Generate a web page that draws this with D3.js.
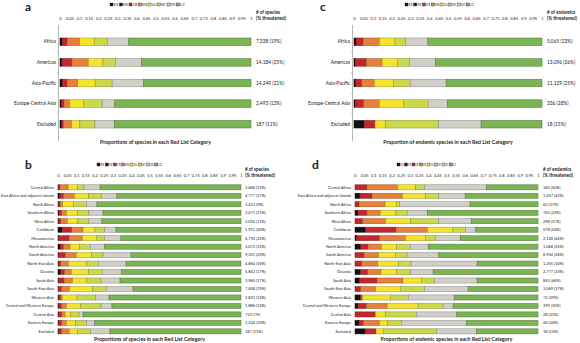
<!DOCTYPE html>
<html>
<head>
<meta charset="utf-8">
<script src="https://cdn.jsdelivr.net/npm/d3@7"></script>
<style>
  body { margin: 0; background: #fff; }
  text { font-family: Lato, "Open Sans", sans-serif; fill: #222; }
</style>
</head>
<body>
<div id="container"></div>
<script>
// Red List categories, in stacking order
const categories = ["EX", "EW", "CR", "EN", "VU", "NT", "DD", "LC"];
const catColors = ["#111111", "#2a1414", "#c1272d", "#e6803a", "#f4e42c", "#cbd84a", "#d0d0c8", "#7bb454"];

const tickValues = d3.range(0, 1.0001, 0.05);

// panel a: all species by IPBES region
const regionsA = ["Africa", "Americas", "Asia-Pacific", "Europe-Central Asia", "Excluded"];
const valuesA = [
  [0.012, 0, 0.025, 0.066, 0.076, 0.070, 0.111, 0.640],
  [0.010, 0, 0.052, 0.086, 0.077, 0.065, 0.136, 0.574],
  [0.012, 0, 0.025, 0.056, 0.091, 0.089, 0.164, 0.563],
  [0.007, 0, 0.014, 0.030, 0.071, 0.099, 0.063, 0.716],
  [0.009, 0, 0.008, 0.044, 0.043, 0.079, 0.101, 0.716]
];
const labelsA = ["7,338 (19%)", "14,184 (25%)", "14,249 (21%)", "2,493 (13%)", "187 (11%)"];

// panel c: endemic species by IPBES region
const valuesC = [
  [0.011, 0, 0.037, 0.087, 0.083, 0.056, 0.119, 0.607],
  [0.007, 0, 0.058, 0.084, 0.081, 0.064, 0.140, 0.566],
  [0.009, 0, 0.032, 0.067, 0.101, 0.090, 0.191, 0.510],
  [0.007, 0, 0.044, 0.084, 0.127, 0.133, 0.101, 0.504],
  [0.053, 0, 0.059, 0.000, 0.054, 0.284, 0.226, 0.324]
];
const labelsC = ["5,065 (23%)", "13,096 (26%)", "11,129 (25%)", "336 (28%)", "18 (15%)"];

// panels b and d: subregions
const subregions = ["Central Africa", "East Africa and adjacent islands", "North Africa", "Southern Africa",
  "West Africa", "Caribbean", "Mesoamerica", "North America", "South America", "North-East Asia",
  "Oceania", "South Asia", "South-East Asia", "Western Asia", "Central and Western Europe",
  "Central Asia", "Eastern Europe", "Excluded"];
const valuesB = [
  [0.003, 0, 0.008, 0.044, 0.051, 0.036, 0.088, 0.770],
  [0.009, 0, 0.020, 0.062, 0.077, 0.069, 0.085, 0.678],
  [0.003, 0, 0.008, 0.015, 0.058, 0.071, 0.058, 0.787],
  [0.005, 0, 0.015, 0.027, 0.059, 0.063, 0.077, 0.754],
  [0.004, 0, 0.011, 0.036, 0.058, 0.057, 0.074, 0.760],
  [0.022, 0, 0.053, 0.062, 0.065, 0.053, 0.062, 0.683],
  [0.004, 0, 0.056, 0.073, 0.076, 0.046, 0.089, 0.656],
  [0.011, 0, 0.018, 0.037, 0.052, 0.059, 0.078, 0.745],
  [0.003, 0, 0.037, 0.060, 0.082, 0.064, 0.153, 0.601],
  [0.003, 0, 0.012, 0.043, 0.100, 0.062, 0.152, 0.628],
  [0.015, 0, 0.020, 0.038, 0.095, 0.074, 0.104, 0.654],
  [0.004, 0, 0.029, 0.047, 0.078, 0.077, 0.104, 0.661],
  [0.003, 0, 0.017, 0.044, 0.125, 0.075, 0.146, 0.590],
  [0.003, 0, 0.012, 0.009, 0.080, 0.100, 0.075, 0.721],
  [0.004, 0, 0.016, 0.027, 0.077, 0.111, 0.060, 0.705],
  [0.004, 0, 0.016, 0.020, 0.029, 0.046, 0.022, 0.863],
  [0.004, 0, 0.016, 0.027, 0.050, 0.060, 0.043, 0.800],
  [0.004, 0, 0.016, 0.042, 0.045, 0.072, 0.105, 0.716]
];
const labelsB = ["2,686 (11%)", "4,777 (17%)", "2,413 (9%)", "3,471 (11%)", "2,016 (11%)", "1,911 (20%)",
  "4,792 (22%)", "3,073 (13%)", "9,351 (23%)", "4,864 (16%)", "5,842 (17%)", "3,960 (17%)",
  "7,408 (19%)", "1,821 (13%)", "1,886 (13%)", "733 (7%)", "1,224 (10%)", "187 (11%)"];
const valuesD = [
  [0.000, 0, 0.065, 0.168, 0.098, 0.049, 0.338, 0.282],
  [0.027, 0, 0.066, 0.167, 0.125, 0.073, 0.144, 0.398],
  [0.000, 0, 0.022, 0.142, 0.061, 0.019, 0.385, 0.371],
  [0.016, 0, 0.049, 0.073, 0.086, 0.061, 0.111, 0.604],
  [0.000, 0, 0.042, 0.125, 0.138, 0.153, 0.178, 0.364],
  [0.058, 0, 0.166, 0.172, 0.139, 0.069, 0.056, 0.340],
  [0.009, 0, 0.124, 0.143, 0.108, 0.056, 0.135, 0.425],
  [0.031, 0, 0.040, 0.074, 0.082, 0.077, 0.096, 0.600],
  [0.000, 0, 0.049, 0.080, 0.091, 0.065, 0.173, 0.542],
  [0.000, 0, 0.036, 0.089, 0.111, 0.071, 0.360, 0.333],
  [0.029, 0, 0.040, 0.073, 0.085, 0.077, 0.123, 0.573],
  [0.025, 0, 0.095, 0.142, 0.100, 0.073, 0.232, 0.333],
  [0.000, 0, 0.031, 0.082, 0.134, 0.133, 0.238, 0.382],
  [0.029, 0, 0.006, 0.007, 0.151, 0.098, 0.251, 0.458],
  [0.016, 0, 0.046, 0.114, 0.169, 0.137, 0.054, 0.464],
  [0.000, 0, 0.111, 0.000, 0.056, 0.168, 0.220, 0.445],
  [0.022, 0, 0.023, 0.088, 0.043, 0.077, 0.356, 0.391],
  [0.055, 0, 0.060, 0.000, 0.040, 0.290, 0.219, 0.336]
];
const labelsD = ["345 (50%)", "1,457 (43%)", "62 (37%)", "765 (23%)", "298 (37%)", "578 (54%)",
  "2,128 (44%)", "1,068 (25%)", "6,954 (26%)", "1,255 (30%)", "2,777 (23%)", "852 (46%)",
  "3,069 (37%)", "72 (29%)", "399 (35%)", "28 (21%)", "46 (24%)", "18 (15%)"];

const width = 580;
const height = 343;

const svg = d3.select("#container").append("svg")
  .attr("width", width)
  .attr("height", height);

const color = d3.scaleOrdinal().domain(categories).range(catColors);

// squeeze a label into the room it has
function fitText(sel, maxW) {
  sel.each(function () {
    const len = this.getComputedTextLength();
    if (len > maxW) {
      d3.select(this).attr("textLength", maxW).attr("lengthAdjust", "spacingAndGlyphs");
    }
  });
}

function drawPanel(p) {
  const g = svg.append("g");
  const rows = p.rows.map((name, i) => {
    const o = { name };
    categories.forEach((c, j) => o[c] = p.values[i][j]);
    return o;
  });
  const series = d3.stack().keys(categories)(rows);

  const x = d3.scaleLinear().domain([0, 1]).range([p.x0, p.x1]);
  const y = d3.scaleBand().domain(p.rows).range([p.yTop, p.yBottom]).padding(p.pad);

  // panel letter
  g.append("text")
    .attr("x", p.letterX).attr("y", p.letterY)
    .style("font-size", "12px").style("font-weight", "bold")
    .text(p.letter);

  // legend, spread evenly over its width
  const legend = g.append("g").attr("transform", `translate(${p.legendX},${p.legendY})`);
  const step = p.legendW / categories.length;
  categories.forEach((c, i) => {
    const li = legend.append("g").attr("transform", `translate(${i * step},0)`);
    li.append("rect")
      .attr("x", 0).attr("y", -3).attr("width", 3).attr("height", 3)
      .attr("fill", color(c)).attr("stroke", "#333").attr("stroke-width", 0.4);
    li.append("text")
      .attr("x", 3.6).attr("y", 0)
      .style("font-size", p.legendFont + "px")
      .text(c)
      .call(fitText, step - 4.6);
  });

  // top axis with tick labels
  const axis = g.append("g")
    .attr("transform", `translate(0,${p.tickY})`)
    .call(d3.axisTop(x).tickValues(tickValues).tickSize(0).tickPadding(0).tickFormat(d3.format("~g")));
  axis.select(".domain").remove();
  axis.selectAll("text")
    .style("font-size", "4px")
    .style("font-family", "Lato, sans-serif")
    .attr("fill", "#222");

  // header for right labels
  g.append("text")
    .attr("x", p.labelX).attr("y", p.tickY - 6)
    .style("font-size", "4.6px").style("font-weight", "bold")
    .text(p.header);
  g.append("text")
    .attr("x", p.labelX).attr("y", p.tickY)
    .style("font-size", "4.6px").style("font-weight", "bold")
    .text("(% threatened)");

  // left axis line
  if (p.axisLine) {
    g.append("line")
      .attr("x1", p.x0 - 1.5).attr("x2", p.x0 - 1.5)
      .attr("y1", p.yTop).attr("y2", p.yBottom)
      .attr("stroke", "#888").attr("stroke-width", 0.6);
    g.selectAll(".ytick")
      .data(p.rows.slice(1))
      .join("line")
      .attr("x1", p.x0 - 3).attr("x2", p.x0 - 1.5)
      .attr("y1", d => y(d) - y.step() * y.paddingInner() / 2)
      .attr("y2", d => y(d) - y.step() * y.paddingInner() / 2)
      .attr("stroke", "#888").attr("stroke-width", 0.5);
  }

  // stacked bars
  g.append("g")
    .selectAll("g")
    .data(series)
    .join("g")
    .attr("fill", d => color(d.key))
    .attr("stroke", d => d3.color(color(d.key)).darker(1.2))
    .attr("stroke-width", 0.5)
    .selectAll("rect")
    .data(d => d.filter(s => s[1] - s[0] > 0))
    .join("rect")
    .attr("x", d => x(d[0]))
    .attr("y", d => y(d.data.name))
    .attr("width", d => x(d[1]) - x(d[0]))
    .attr("height", y.bandwidth());

  // category labels
  g.append("g")
    .selectAll("text")
    .data(p.rows)
    .join("text")
    .attr("x", p.x0 - 4)
    .attr("y", d => y(d) + y.bandwidth() / 2)
    .attr("dy", "0.35em")
    .attr("text-anchor", "end")
    .style("font-size", p.rowFont + "px")
    .text(d => d)
    .call(fitText, p.x0 - 5);

  // counts
  g.append("g")
    .selectAll("text")
    .data(p.labels)
    .join("text")
    .attr("x", p.labelX)
    .attr("y", (d, i) => y(p.rows[i]) + y.bandwidth() / 2)
    .attr("dy", "0.35em")
    .style("font-size", p.rowFont + "px")
    .text(d => d);

  // x label
  g.append("text")
    .attr("x", (p.x0 + p.x1) / 2)
    .attr("y", p.xLabelY)
    .attr("text-anchor", "middle")
    .style("font-size", "5.2px").style("font-weight", "bold")
    .text(p.xLabel);
}

drawPanel({
  letter: "a", letterX: 25, letterY: 11,
  legendX: 110, legendY: 6, legendW: 76, legendFont: 4.4,
  rows: regionsA, values: valuesA, labels: labelsA,
  x0: 60, x1: 251, yTop: 25, yBottom: 141, pad: 0.63,
  tickY: 20, labelX: 256, header: "# of species",
  axisLine: true, rowFont: 4.8, xLabelY: 144,
  xLabel: "Proportions of species in each Red List Category"
});

drawPanel({
  letter: "c", letterX: 320, letterY: 11,
  legendX: 405, legendY: 6, legendW: 70, legendFont: 4.4,
  rows: regionsA, values: valuesC, labels: labelsC,
  x0: 354, x1: 542, yTop: 25, yBottom: 141, pad: 0.63,
  tickY: 20, labelX: 547, header: "# of endemics",
  axisLine: true, rowFont: 4.8, xLabelY: 144,
  xLabel: "Proportion of endemic species in each Red List Category"
});

drawPanel({
  letter: "b", letterX: 25, letterY: 169,
  legendX: 97, legendY: 166, legendW: 66, legendFont: 4.2,
  rows: subregions, values: valuesB, labels: labelsB,
  x0: 58, x1: 241, yTop: 181.4, yBottom: 337.3, pad: 0.4,
  tickY: 177, labelX: 245, header: "# of species",
  axisLine: false, rowFont: 3.9, xLabelY: 341,
  xLabel: "Proportions of species in each Red List Category"
});

drawPanel({
  letter: "d", letterX: 312, letterY: 169,
  legendX: 397, legendY: 166, legendW: 60, legendFont: 4.2,
  rows: subregions, values: valuesD, labels: labelsD,
  x0: 355, x1: 538, yTop: 181.4, yBottom: 337.3, pad: 0.4,
  tickY: 177, labelX: 543, header: "# of endemics",
  axisLine: false, rowFont: 3.9, xLabelY: 341,
  xLabel: "Proportions of endemic species in each Red List Category"
});
</script>
</body>
</html>
